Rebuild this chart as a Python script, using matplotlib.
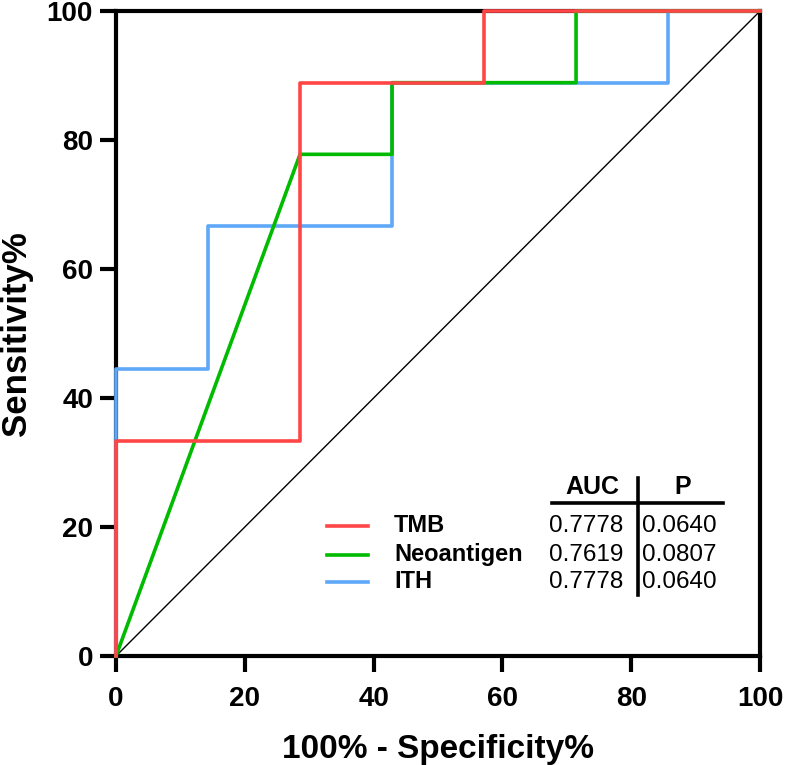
import matplotlib.pyplot as plt
import numpy as np

# ROC step points (100% - specificity, sensitivity)
tmb_x = [0, 0, 28.57, 28.57, 57.14, 57.14, 100]
tmb_y = [0, 33.33, 33.33, 88.89, 88.89, 100, 100]
neo_x = [0, 28.57, 42.86, 42.86, 71.43, 71.43, 100]
neo_y = [0, 77.78, 77.78, 88.89, 88.89, 100, 100]
ith_x = [0, 0, 14.29, 14.29, 42.86, 42.86, 85.71, 85.71, 100]
ith_y = [0, 44.44, 44.44, 66.67, 66.67, 88.89, 88.89, 100, 100]

names = ['TMB', 'Neoantigen', 'ITH']
auc = ['0.7778', '0.7619', '0.7778']
pval = ['0.0640', '0.0807', '0.0640']
colors = ['#FF4545', '#00BB00', '#5EA8F7']

plt.rcParams['font.family'] = ['Liberation Sans', 'DejaVu Sans']

fig = plt.figure(figsize=(7.86, 7.65), dpi=100)
ax = fig.add_axes([0.1476, 0.1425, 0.8194, 0.8431])

ax.plot([0, 100], [0, 100], color='black', lw=1.0, zorder=1)
ax.plot(ith_x, ith_y, color=colors[2], lw=2.6, zorder=2, clip_on=False)
ax.plot(neo_x, neo_y, color=colors[1], lw=2.6, zorder=3, clip_on=False)
ax.plot(tmb_x, tmb_y, color=colors[0], lw=2.6, zorder=4, clip_on=False)

ax.set_xlim(0, 100)
ax.set_ylim(0, 100)
ax.set_xticks(np.arange(0, 101, 20))
ax.set_yticks(np.arange(0, 101, 20))
for s in ax.spines.values():
    s.set_linewidth(3)
    s.set_zorder(0)
ax.tick_params(width=3, length=11.5)
ax.tick_params(axis='x', pad=10)
ax.tick_params(axis='y', pad=5)
for lab in ax.get_xticklabels() + ax.get_yticklabels():
    lab.set_fontweight('bold')
    lab.set_fontsize(20)

ax.set_xlabel('100% - Specificity%', fontsize=24, fontweight='bold', labelpad=16)
ax.set_ylabel('Sensitivity%', fontsize=25, fontweight='bold', labelpad=10)

# legend + table
rows_y = [20.2, 15.7, 11.5]
for i in range(3):
    y = rows_y[i]
    ax.plot([32.8, 39.1], [y, y], color=colors[i], lw=2.6)
    ax.text(43.2, y, names[i], fontsize=17, fontweight='bold', va='center', ha='left')
    ax.text(78.8, y, auc[i], fontsize=17.5, va='center', ha='right')
    ax.text(81.7, y, pval[i], fontsize=17.5, va='center', ha='left')
ax.text(74.0, 26.2, 'AUC', fontsize=18, fontweight='bold', va='center', ha='center')
ax.text(88.0, 26.2, 'P', fontsize=18, fontweight='bold', va='center', ha='center')
ax.plot([67.7, 94.3], [23.7, 23.7], color='black', lw=2.6)
ax.plot([81.06, 81.06], [9.5, 27.6], color='black', lw=2.6)

fig.savefig('out.png', dpi=100)
